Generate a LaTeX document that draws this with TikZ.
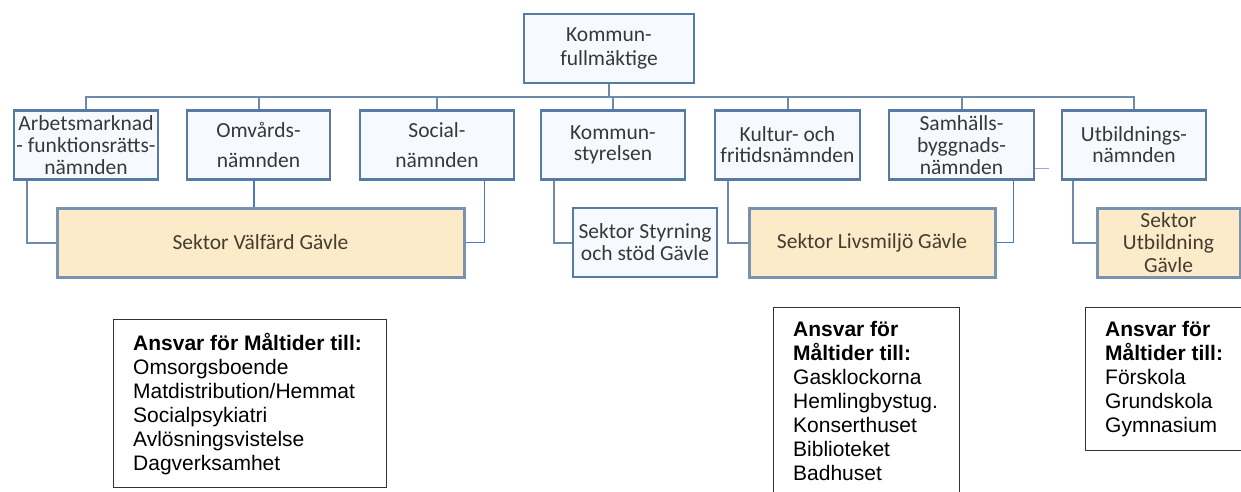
\documentclass[tikz,border=0pt]{standalone}
\usepackage{fontspec}
\setmainfont{Carlito}
\newfontfamily\arialf{Liberation Sans}
\definecolor{bordblue}{HTML}{587BA6}
\definecolor{boxfill}{HTML}{F6FAFE}
\definecolor{sectfill}{HTML}{FCEBC9}
\definecolor{sectbord}{HTML}{7892B0}
\definecolor{connc}{HTML}{6F89AA}
\definecolor{thinblue}{HTML}{4A78C8}
\definecolor{txtgray}{HTML}{383838}
\definecolor{secttxt}{HTML}{463C30}
\begin{document}
\begin{tikzpicture}[x=1pt,y=-1pt,
  orgbox/.style={draw=bordblue, line width=2.6pt, fill=boxfill, inner sep=0pt,
    align=center, text=txtgray, minimum height=69pt},
  sectbox/.style={draw=sectbord, line width=3pt, fill=sectfill, inner sep=0pt,
    align=center, text=secttxt, minimum height=69pt},
  conn/.style={draw=connc, line width=2pt},
  thinconn/.style={draw=thinblue, line width=1.2pt},
  infobox/.style={draw=black!80, line width=0.9pt, inner sep=0pt},
  infotext/.style={inner sep=0pt, anchor=north west, align=left,
    font=\arialf\fontsize{21}{24}\selectfont}]
\useasboundingbox (0,0) rectangle (1241,492);
\fill[white] (0,0) rectangle (1241,492);

% top
\node[orgbox, minimum width=170pt, font=\fontsize{21.5}{24}\selectfont] (top) at (609,48.5) {Kommun-\\fullmäktige};
% row 1
\node[orgbox, minimum width=144pt, font=\fontsize{21.5}{22}\selectfont] (arb) at (86,145) {Arbetsmarknad\\- funktionsrätts-\\nämnden};
\node[orgbox, minimum width=143pt, font=\fontsize{21.5}{30}\selectfont] (omv) at (258.5,145) {Omvårds-\\nämnden};
\node[orgbox, minimum width=154pt, font=\fontsize{21.5}{30}\selectfont] (soc) at (437,145) {Social-\\nämnden};
\node[orgbox, minimum width=144pt, font=\fontsize{21.5}{21}\selectfont] (ks) at (613,145) {Kommun-\\styrelsen};
\node[orgbox, minimum width=145pt, font=\fontsize{21.5}{21}\selectfont] (kul) at (787.5,145) {Kultur- och\\fritidsnämnden};
\node[orgbox, minimum width=145pt, font=\fontsize{21.5}{22}\selectfont] (sam) at (961.5,145) {Samhälls-\\byggnads-\\nämnden};
\node[orgbox, minimum width=144pt, font=\fontsize{21.5}{21}\selectfont] (utbn) at (1134,145) {Utbildnings-\\nämnden};
% row 2
\node[sectbox, minimum width=407pt, font=\fontsize{21.5}{22}\selectfont] (valf) at (260.5,242.5) {Sektor Välfärd Gävle};
\node[orgbox, minimum width=144pt, font=\fontsize{21.5}{22}\selectfont] (styr) at (645,242.5) {Sektor Styrning\\och stöd Gävle};
\node[sectbox, minimum width=246pt, font=\fontsize{21.5}{22}\selectfont] (liv) at (872,242.5) {Sektor Livsmiljö Gävle};
\node[sectbox, minimum width=143pt, font=\fontsize{21.5}{22.5}\selectfont] (sekutb) at (1168.5,242.5) {Sektor\\Utbildning\\Gävle};

% bus
\coordinate (busy) at (609,97);
\draw[conn] (top.south) -- (busy);
\draw[conn] (arb.north) -- (arb.north |- busy) -- (utbn.north |- busy) -- (utbn.north);
\foreach \n in {omv,soc,ks,kul,sam}
  \draw[conn] (\n.north |- busy) -- (\n.north);

% to sectors
\draw[conn] ([xshift=14pt]arb.south west) |- (valf.west);
\draw[thinconn] ([xshift=-4.5pt]omv.south) -- ([xshift=-4.5pt]omv.south |- valf.north);
\draw[thinconn] ([xshift=-31pt]soc.south east) |- (valf.east);
\draw[conn] ([xshift=14pt]ks.south west) |- (styr.west);
\draw[conn] ([xshift=14pt]kul.south west) |- (liv.west);
\draw[thinconn] ([xshift=-22pt]sam.south east) |- (liv.east);
\draw[thinblue!60, line width=0.8pt] ([yshift=-23pt]sam.east) -- ++(14,0);
\draw[conn] ([xshift=12pt]utbn.south west) |- (sekutb.west);

% info boxes
\node[infobox, minimum width=273pt, minimum height=168pt] (info1) at (249.5,403) {};
\node[infotext] (info1t) at (133,328.6) {\rule{0pt}{22pt}\textbf{Ansvar för Måltider till:}\\Omsorgsboende\\Matdistribution/Hemmat\\Socialpsykiatri\\Avlösningsvistelse\\Dagverksamhet};

\coordinate (info2bl) at (773,496);
\coordinate (info2br) at (959,496);
\draw[draw=black!80, line width=0.9pt] (info2bl) -- (info2bl |- 0,307) -- (info2br |- 0,307) -- (info2br);
\node[infotext] (info2t) at (793,314.6) {\rule{0pt}{22pt}\textbf{Ansvar för}\\\textbf{Måltider till:}\\Gasklockorna\\Hemlingbystug.\\Konserthuset\\Biblioteket\\Badhuset};

\node[infobox, minimum width=160pt, minimum height=143pt] (info3) at (1165,378.5) {};
\node[infotext] (info3t) at (1105,314.6) {\rule{0pt}{22pt}\textbf{Ansvar för}\\\textbf{Måltider till:}\\Förskola\\Grundskola\\Gymnasium};
\end{tikzpicture}
\end{document}
